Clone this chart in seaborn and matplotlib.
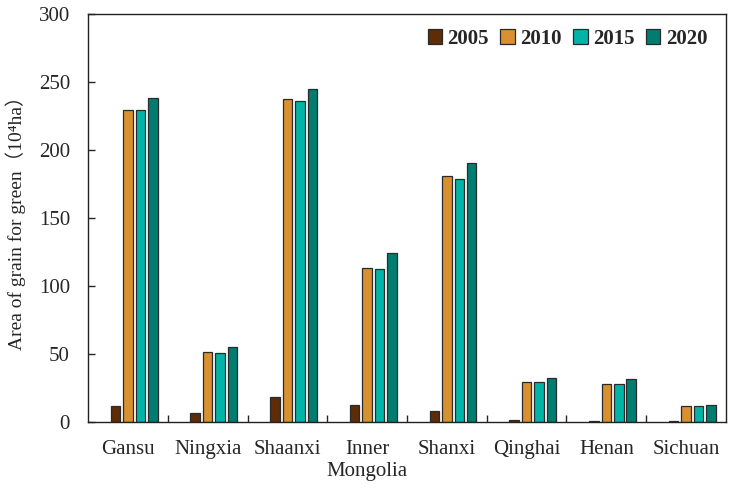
import pandas as pd
import matplotlib
matplotlib.use("Agg")
import matplotlib.pyplot as plt
import seaborn as sns
from matplotlib.patches import Patch
from matplotlib.ticker import FixedLocator

provinces = ["Gansu", "Ningxia", "Shaanxi", "Inner\nMongolia", "Shanxi", "Qinghai", "Henan", "Sichuan"]
years = ["2005", "2010", "2015", "2020"]
v2005 = [11.8, 6.4, 18.6, 12.6, 8.2, 1.3, 0.9, 0.4]
v2010 = [229.8, 51.2, 237.5, 113.4, 181.3, 29.6, 27.8, 11.8]
v2015 = [229.2, 50.7, 236.3, 112.6, 179.0, 29.6, 27.6, 11.8]
v2020 = [238.6, 55.1, 245.2, 124.3, 190.5, 32.6, 31.3, 12.6]
colors = ["#5E2C06", "#D9902F", "#00B5A8", "#007D70"]

df = pd.DataFrame({"province": provinces * 4,
                   "year": [y for y in years for _ in provinces],
                   "area": v2005 + v2010 + v2015 + v2020})

sns.set_style("white")
plt.rcParams['font.family'] = ['Liberation Serif', 'Noto Sans CJK SC', 'DejaVu Serif']

fig = plt.figure(figsize=(7.4, 4.9), dpi=100)
ax = fig.add_axes([0.119, 0.139, 0.862, 0.832])

# the original has an empty first slot in every group
hue_order = [" "] + years
pal = dict(zip(hue_order, ["white"] + colors))
sns.barplot(data=df, x="province", y="area", hue="year", hue_order=hue_order,
            palette=pal, saturation=1, width=0.78, gap=0.24,
            edgecolor="#2a2a2a", linewidth=0.9, legend=False, ax=ax)

ax.set_xlim(-0.5, 7.5)
ax.set_ylim(0, 300)
ax.set_yticks(range(0, 301, 50))
ax.set_xlabel("")
ax.set_ylabel("Area of grain for green（10⁴ha）", fontsize=14, labelpad=9)
ax.tick_params(axis="y", direction="in", length=5, width=1, labelsize=15, pad=13, left=True)
ax.tick_params(axis="x", which="major", length=0, labelsize=15, pad=13)
ax.xaxis.set_minor_locator(FixedLocator([i + 0.5 for i in range(7)]))
ax.tick_params(axis="x", which="minor", direction="in", length=5, width=1, bottom=True)
for s in ax.spines.values():
    s.set_color("#222222")
    s.set_linewidth(1.0)

handles = [Patch(facecolor=c, edgecolor="#2a2a2a", linewidth=0.9) for c in colors]
ax.legend(handles, years, loc="upper right", ncol=4, frameon=False,
          bbox_to_anchor=(1.0, 1.01), handlelength=0.7, handleheight=0.7,
          handletextpad=0.25, columnspacing=0.55, prop={"weight": "bold", "size": 15})

fig.savefig("out.png", dpi=100)
